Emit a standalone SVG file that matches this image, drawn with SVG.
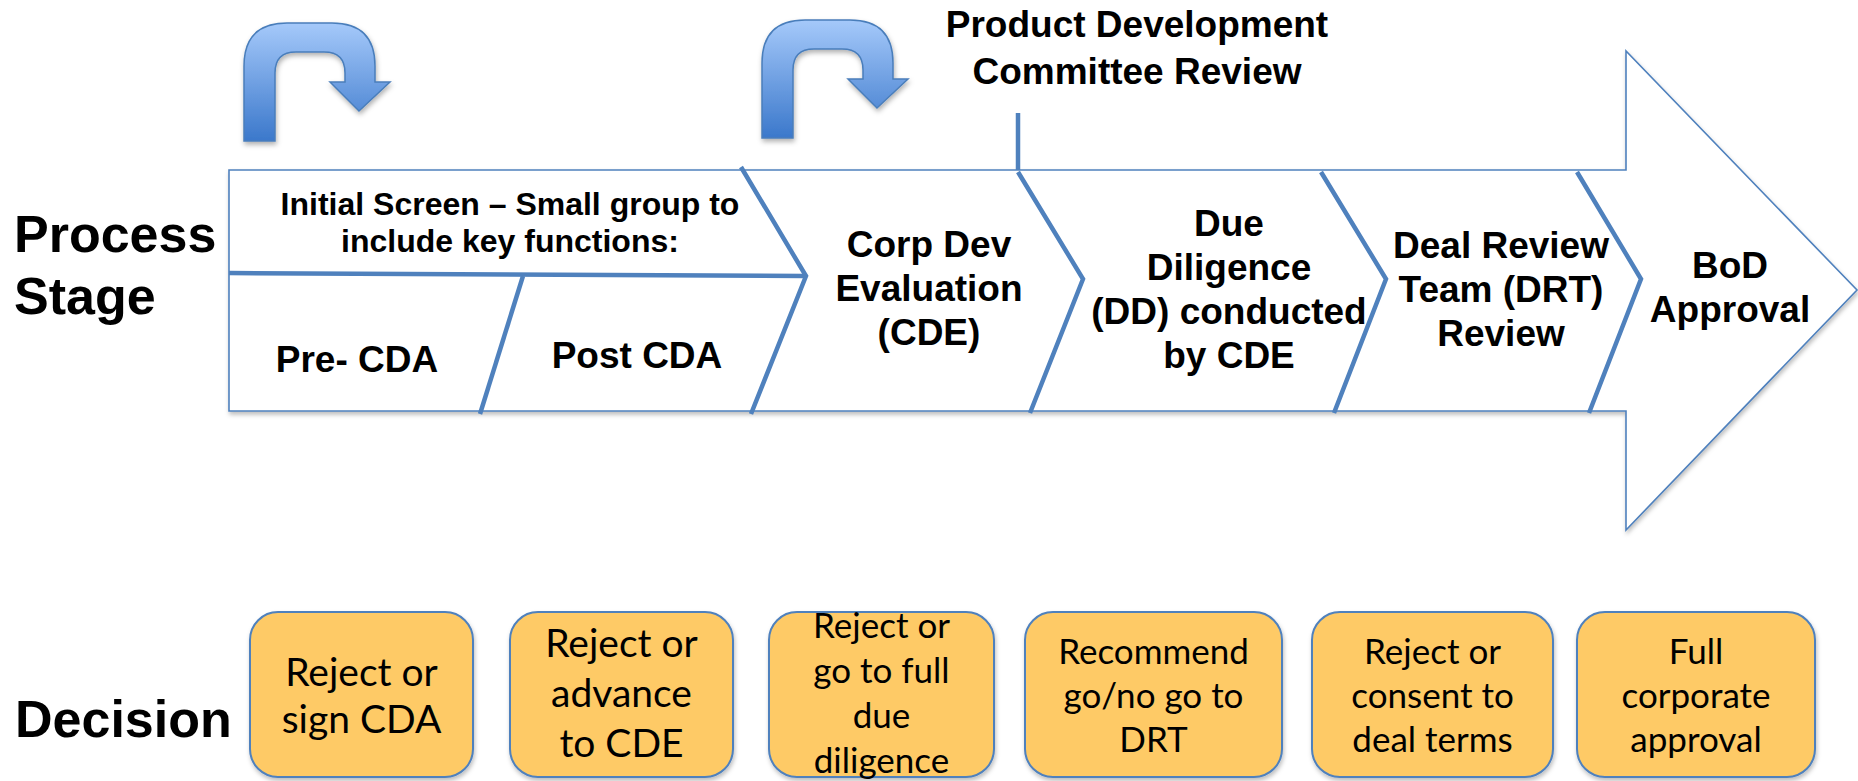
<svg xmlns="http://www.w3.org/2000/svg" width="1858" height="781" viewBox="0 0 1858 781">
<style>
.lbl{font-family:"Liberation Sans",Arial,sans-serif;font-weight:bold;fill:#000;}
.big{font-size:52px;}
.stg{font-size:37px;text-anchor:middle;}
.init{font-size:32px;text-anchor:middle;}
.box{fill:#FECA66;stroke:#4F81BD;stroke-width:2;}
.bt{font-family:Lato,"Open Sans",sans-serif;fill:#000;text-anchor:middle;}
.f1{font-size:39px;}
.f2{font-size:35px;}
.div{stroke:#4F81BD;stroke-width:4.5;fill:none;stroke-linecap:butt;}
.curv{fill:url(#cg);stroke:#4A7EBB;stroke-width:1.5;}
</style>
<defs>
<linearGradient id="cg" x1="0" y1="0" x2="0" y2="1">
<stop offset="0" stop-color="#A5C9FA"/>
<stop offset="1" stop-color="#3B78CB"/>
</linearGradient>
<filter id="sh" x="-10%" y="-10%" width="130%" height="130%">
<feDropShadow dx="1" dy="3" stdDeviation="2.5" flood-color="#000" flood-opacity="0.3"/>
</filter>
<filter id="sh2" x="-5%" y="-5%" width="110%" height="115%">
<feDropShadow dx="1" dy="3" stdDeviation="2" flood-color="#000" flood-opacity="0.25"/>
</filter>
<path id="uturn" d="M0,0 L0,-75 Q0,-118 43,-118 L88,-118 Q131,-118 131,-75 L131,-59 L146,-59 L115,-30 L86,-59 L101,-59 L101,-68 Q101,-89 80,-89 L52,-89 Q31,-89 31,-68 L31,0 Z"/>
</defs>

<g id="labels">
<text class="lbl big" x="14" y="252">Process</text>
<text class="lbl big" x="14" y="314">Stage</text>
<text class="lbl big" x="15" y="737">Decision</text>
</g>

<g id="loop1"><use href="#uturn" class="curv" filter="url(#sh)" transform="translate(244,141)"/></g>
<g id="loop2"><use href="#uturn" class="curv" filter="url(#sh)" transform="translate(762,138)"/></g>

<g id="pdcr">
<text class="lbl stg" x="1137" y="37">Product Development</text>
<text class="lbl stg" x="1137" y="84">Committee Review</text>
</g>

<g id="process-arrow">
<polygon points="229,170 1626,170 1626,51 1857,290 1626,530 1626,411 229,411" fill="#fff" stroke="#4F81BD" stroke-width="1.6" filter="url(#sh2)"/>
</g>

<g id="connectors">
<line class="div" x1="1018" y1="113" x2="1018" y2="170"/>
<line class="div" x1="229" y1="273" x2="805" y2="276"/>
<polyline class="div" points="741,167 806,276 751,414"/>
<line class="div" x1="523" y1="276" x2="480" y2="414"/>
<polyline class="div" points="1018,172 1083,279 1030,413"/>
<polyline class="div" points="1321,172 1386,279 1334,413"/>
<polyline class="div" points="1577,172 1641,279 1589,413"/>
</g>

<g id="stage-initial">
<text class="lbl init" x="510" y="215">Initial Screen – Small group to</text>
<text class="lbl init" x="510" y="252">include key functions:</text>
</g>
<g id="stage-pre"><text class="lbl stg" x="357" y="372">Pre- CDA</text></g>
<g id="stage-post"><text class="lbl stg" x="637" y="368">Post CDA</text></g>
<g id="stage-cde">
<text class="lbl stg" x="929" y="257">Corp Dev</text>
<text class="lbl stg" x="929" y="301">Evaluation</text>
<text class="lbl stg" x="929" y="345">(CDE)</text>
</g>
<g id="stage-dd">
<text class="lbl stg" x="1229" y="236">Due</text>
<text class="lbl stg" x="1229" y="280">Diligence</text>
<text class="lbl stg" x="1229" y="324">(DD) conducted</text>
<text class="lbl stg" x="1229" y="368">by CDE</text>
</g>
<g id="stage-drt">
<text class="lbl stg" x="1501" y="258">Deal Review</text>
<text class="lbl stg" x="1501" y="302">Team (DRT)</text>
<text class="lbl stg" x="1501" y="346">Review</text>
</g>
<g id="stage-bod">
<text class="lbl stg" x="1730" y="278">BoD</text>
<text class="lbl stg" x="1730" y="322">Approval</text>
</g>

<g id="d1">
<rect class="box" x="250" y="612" width="223" height="165" rx="28" filter="url(#sh2)"/>
<text class="bt f1" x="361.5" y="686">Reject or</text>
<text class="bt f1" x="361.5" y="733">sign CDA</text>
</g>
<g id="d2">
<rect class="box" x="510" y="612" width="223" height="165" rx="28" filter="url(#sh2)"/>
<text class="bt f1" x="621.5" y="657">Reject or</text>
<text class="bt f1" x="621.5" y="707">advance</text>
<text class="bt f1" x="621.5" y="757">to CDE</text>
</g>
<g id="d3">
<rect class="box" x="769" y="612" width="225" height="165" rx="28" filter="url(#sh2)"/>
<text class="bt f2" x="881.5" y="638">Reject or</text>
<text class="bt f2" x="881.5" y="683">go to full</text>
<text class="bt f2" x="881.5" y="728">due</text>
<text class="bt f2" x="881.5" y="773">diligence</text>
</g>
<g id="d4">
<rect class="box" x="1025" y="612" width="257" height="165" rx="28" filter="url(#sh2)"/>
<text class="bt f2" x="1153.5" y="664">Recommend</text>
<text class="bt f2" x="1153.5" y="708">go/no go to</text>
<text class="bt f2" x="1153.5" y="752">DRT</text>
</g>
<g id="d5">
<rect class="box" x="1312" y="612" width="241" height="165" rx="28" filter="url(#sh2)"/>
<text class="bt f2" x="1432.5" y="664">Reject or</text>
<text class="bt f2" x="1432.5" y="708">consent to</text>
<text class="bt f2" x="1432.5" y="752">deal terms</text>
</g>
<g id="d6">
<rect class="box" x="1577" y="612" width="238" height="165" rx="28" filter="url(#sh2)"/>
<text class="bt f2" x="1696" y="664">Full</text>
<text class="bt f2" x="1696" y="708">corporate</text>
<text class="bt f2" x="1696" y="752">approval</text>
</g>
</svg>
